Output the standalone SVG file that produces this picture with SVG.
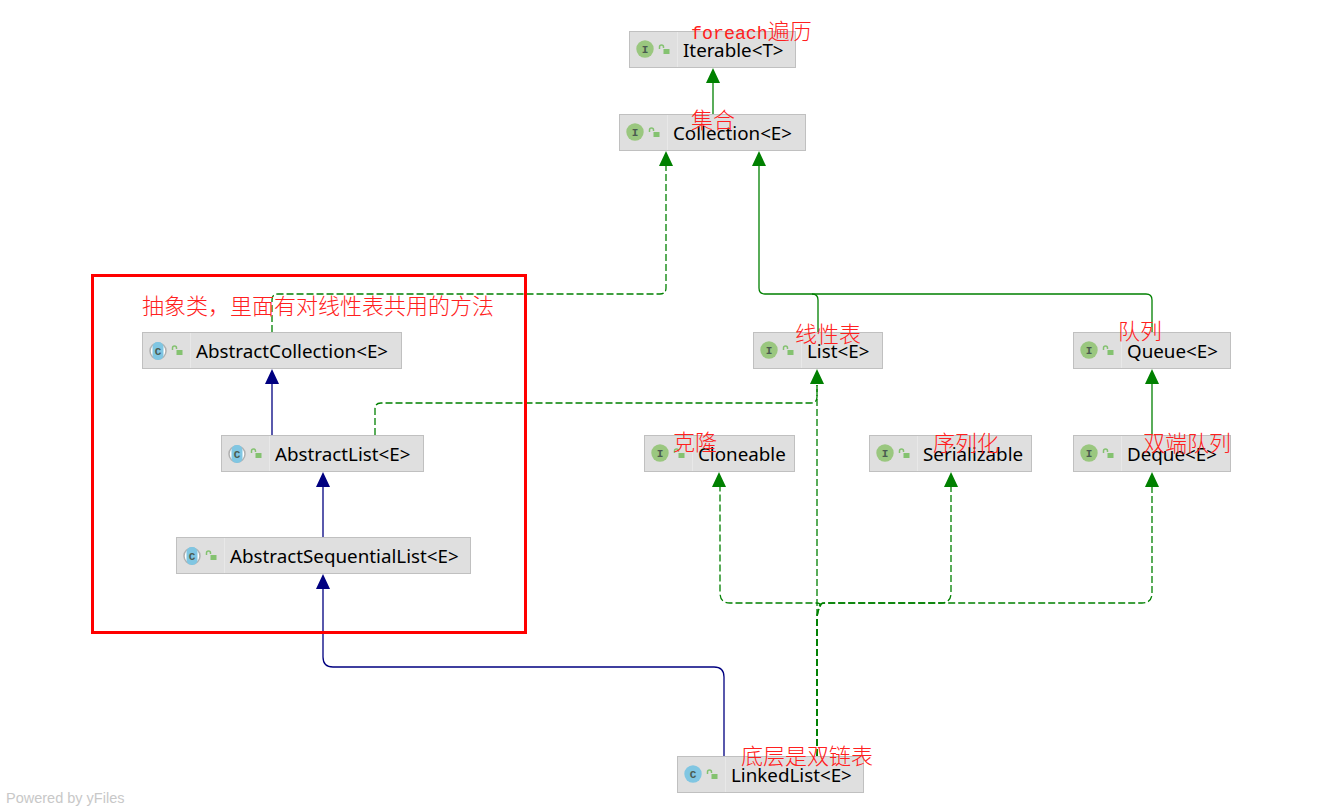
<svg xmlns="http://www.w3.org/2000/svg" width="1344" height="806" viewBox="0 0 1344 806">
<style>
.box{fill:#dfdfdf;stroke:#c0c0c0;stroke-width:1}
.div{stroke:#e8e8e8;stroke-width:1}
.lb{font-family:"Noto Sans","Liberation Sans",sans-serif;font-size:18.8px;fill:#000}
.ii{fill:#9ac77f}
.ic{fill:#80c6e2}
.g{font-family:"Liberation Mono",monospace;font-size:11px;font-weight:700;fill:#4a5a50;text-anchor:middle}
.lock{fill:#84c270}
.lk{fill:none;stroke:#84c270;stroke-width:1.5}
.gs{fill:none;stroke:#008000;stroke-width:1.3}
.gd{fill:none;stroke:#008000;stroke-width:1.3;stroke-dasharray:7 3}
.bs{fill:none;stroke:#000080;stroke-width:1.3}
.ga{fill:#008000}.ba{fill:#000080}
.r{font-family:"Noto Sans CJK SC",sans-serif;font-size:22px;font-weight:300;fill:#ff2020}
</style>
<defs>
<g id="lockicon"><rect class="lock" x="4.500" y="-1" width="6" height="5"/><path class="lk" d="M0.500 -1v-2a2 2 0 0 1 4 0v1"/></g>
<g id="iface"><circle class="ii" cx="0" cy="0" r="8.700"/><text class="g" x="0" y="4">I</text></g>
<g id="cls"><circle class="ic" cx="0" cy="0" r="8.700"/><text class="g" x="0" y="4">C</text></g>
<g id="acls"><circle cx="0" cy="0" r="8" fill="#fff" stroke="#b0b0b0" stroke-width="1.500"/><rect class="ic" x="-5.500" y="-9" width="11" height="18" rx="5"/><text class="g" x="0" y="4">C</text></g>
</defs>
<g id="connectors">
<path class="gs" d="M713 114V80"/><path class="ga" d="M713 68l7 15h-14z"/>
<path class="gd" d="M272 332V300q0-6 6-6H660q6 0 6-6V165"/><path class="ga" d="M666 151l7 15h-14z"/>
<path class="gs" d="M818 332V300q0-6-6-6"/><path class="ga" d="M759 151l7 15h-14z"/>
<path class="gs" d="M1152 332V300q0-6-6-6H765q-6 0-6-6V165"/>
<path class="bs" d="M272 435V384"/><path class="ba" d="M272 369l7 15h-14z"/>
<path class="gd" d="M375 435V409q0-6 6-6H811q6 0 6-6V384"/><path class="ga" d="M817 369l7 15h-14z"/>
<path class="bs" d="M323 537V487"/><path class="ba" d="M323 472l7 15h-14z"/>
<path class="gs" d="M1152 435V384"/><path class="ga" d="M1152 369l7 15h-14z"/>
<path class="bs" d="M724 756V677q0-10-10-10H333q-10 0-10-10V589"/><path class="ba" d="M323 574l7 15h-14z"/>
<path class="gd" d="M817 756V385"/>
<path class="gd" d="M817 756V620q0-8 2-13l1-3q-1-1-4-1H730q-10 0-10-10V486"/><path class="ga" d="M719 472l7 15h-14z"/>
<path class="gd" d="M817 756V620q0-8 3-13l1-3q1-1 5-1H941q10 0 10-10V486"/><path class="ga" d="M951 472l7 15h-14z"/>
<path class="gd" d="M817 756V620q0-8 3-13l1-3q1-1 5-1H1142q10 0 10-10V486"/><path class="ga" d="M1152 472l7 15h-14z"/>
</g>
<g id="n-iterable"><rect class="box" x="629.500" y="31.500" width="166" height="36"/><path class="div" d="M677.500 32V67"/><use href="#iface" x="645" y="49"/><use href="#lockicon" x="659" y="50"/><text class="lb" x="683" y="57">Iterable&lt;T&gt;</text></g>
<g id="n-collection"><rect class="box" x="619.500" y="114.500" width="186" height="36"/><path class="div" d="M667.500 115V150"/><use href="#iface" x="635" y="132"/><use href="#lockicon" x="649" y="133"/><text class="lb" x="673" y="140">Collection&lt;E&gt;</text></g>
<g id="n-abstractcollection"><rect class="box" x="142.500" y="332.500" width="259" height="36"/><path class="div" d="M190.500 333V368"/><use href="#acls" x="158" y="351"/><use href="#lockicon" x="172" y="351"/><text class="lb" x="196" y="358">AbstractCollection&lt;E&gt;</text></g>
<g id="n-abstractlist"><rect class="box" x="221.500" y="435.500" width="202" height="36"/><path class="div" d="M269.500 436V471"/><use href="#acls" x="237" y="454"/><use href="#lockicon" x="251" y="454"/><text class="lb" x="275" y="461">AbstractList&lt;E&gt;</text></g>
<g id="n-abstractsequentiallist"><rect class="box" x="176.500" y="537.500" width="294" height="36"/><path class="div" d="M224.500 538V573"/><use href="#acls" x="192" y="556"/><use href="#lockicon" x="206" y="556"/><text class="lb" x="230" y="563">AbstractSequentialList&lt;E&gt;</text></g>
<g id="n-list"><rect class="box" x="753.500" y="332.500" width="129" height="36"/><path class="div" d="M801.500 333V368"/><use href="#iface" x="769" y="350"/><use href="#lockicon" x="783" y="351"/><text class="lb" x="807" y="358">List&lt;E&gt;</text></g>
<g id="n-queue"><rect class="box" x="1073.500" y="332.500" width="157" height="36"/><path class="div" d="M1121.500 333V368"/><use href="#iface" x="1089" y="350"/><use href="#lockicon" x="1103" y="351"/><text class="lb" x="1127" y="358">Queue&lt;E&gt;</text></g>
<g id="n-cloneable"><rect class="box" x="644.500" y="435.500" width="150" height="36"/><path class="div" d="M692.500 436V471"/><use href="#iface" x="660" y="453"/><use href="#lockicon" x="674" y="454"/><text class="lb" x="698" y="461">Cloneable</text></g>
<g id="n-serializable"><rect class="box" x="869.500" y="435.500" width="162" height="36"/><path class="div" d="M917.500 436V471"/><use href="#iface" x="885" y="453"/><use href="#lockicon" x="899" y="454"/><text class="lb" x="923" y="461">Serializable</text></g>
<g id="n-deque"><rect class="box" x="1073.500" y="435.500" width="157" height="36"/><path class="div" d="M1121.500 436V471"/><use href="#iface" x="1089" y="453"/><use href="#lockicon" x="1103" y="454"/><text class="lb" x="1127" y="461">Deque&lt;E&gt;</text></g>
<g id="n-linkedlist"><rect class="box" x="677.500" y="756.500" width="186" height="36"/><path class="div" d="M725.500 757V792"/><use href="#cls" x="693" y="774"/><use href="#lockicon" x="707" y="775"/><text class="lb" x="731" y="782">LinkedList&lt;E&gt;</text></g>
<g id="annotations">
<rect x="92.500" y="275.500" width="433" height="357" fill="none" stroke="#ff0000" stroke-width="3"/>
<text class="r" x="691" y="39"><tspan font-family="'Liberation Mono',monospace" font-size="18.300px">foreach</tspan>遍历</text>
<text class="r" x="691" y="128">集合</text>
<text class="r" x="142" y="314">抽象类，里面有对线性表共用的方法</text>
<text class="r" x="795" y="342">线性表</text>
<text class="r" x="1118" y="339">队列</text>
<text class="r" x="673" y="450">克隆</text>
<text class="r" x="933" y="451">序列化</text>
<text class="r" x="1143" y="451">双端队列</text>
<text class="r" x="741" y="764">底层是双链表</text>
</g>
<text x="6" y="803" font-family="'Liberation Sans',sans-serif" font-size="14.500px" fill="#c8c8c8">Powered by yFiles</text>
</svg>
